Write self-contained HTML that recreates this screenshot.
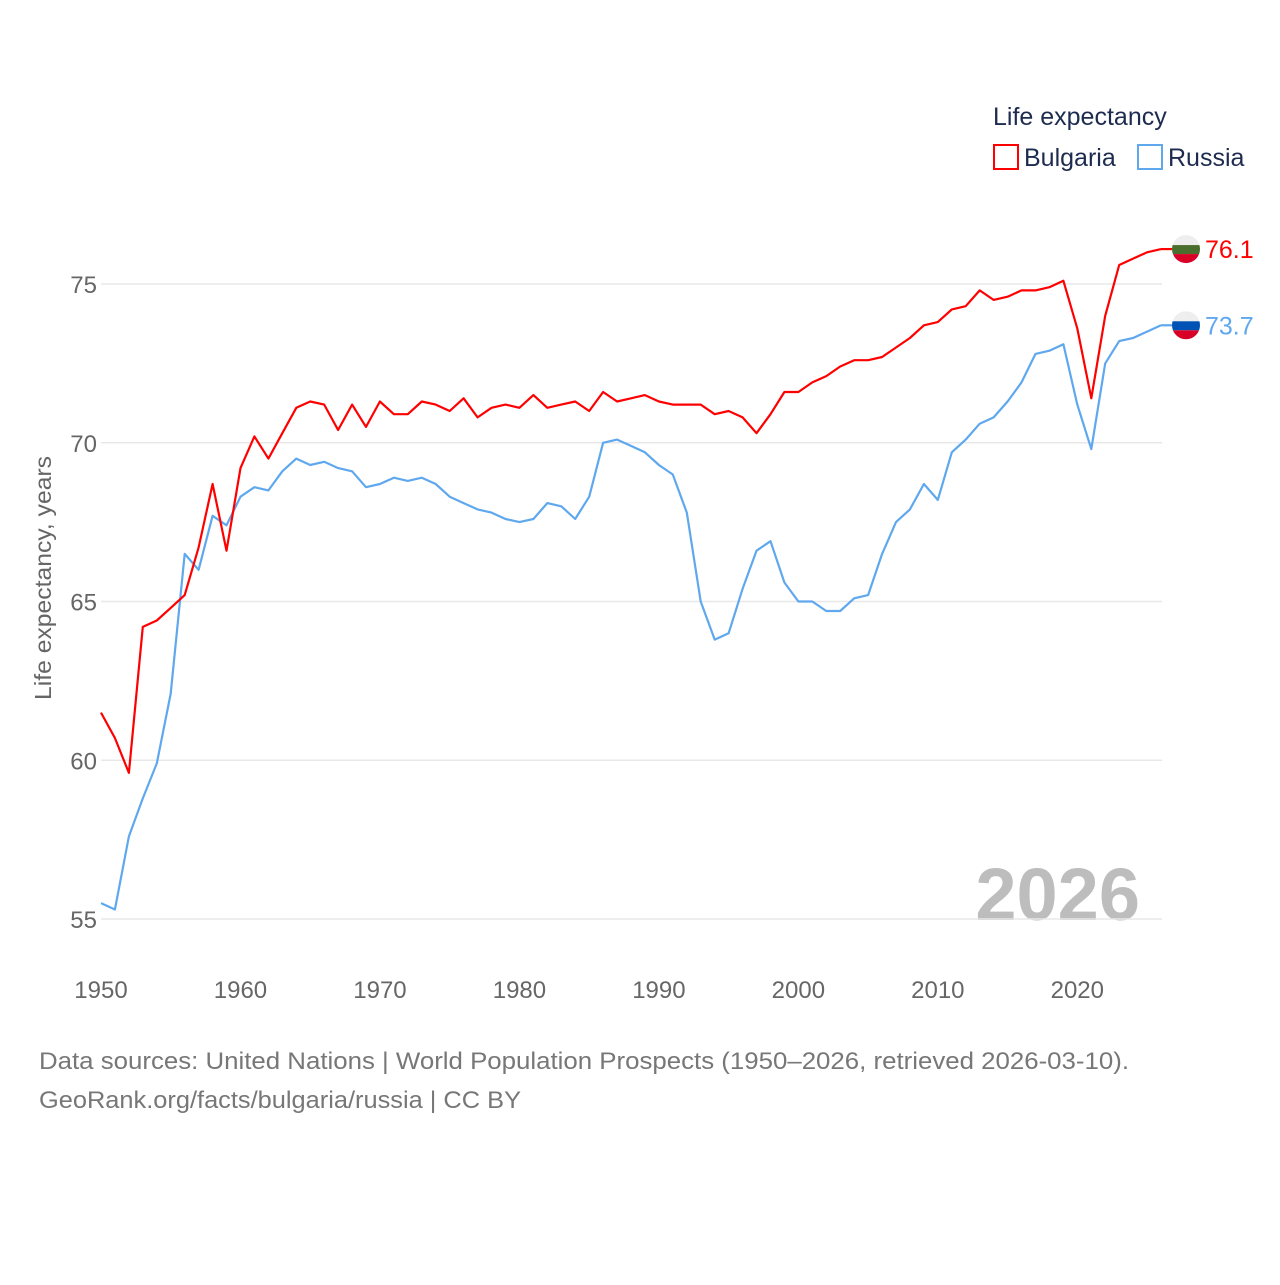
<!DOCTYPE html>
<html><head><meta charset="utf-8"><style>
body{margin:0;background:#fff;width:1280px;height:1280px;overflow:hidden;font-family:"Liberation Sans",sans-serif}
</style></head><body>
<svg id="chart" width="1280" height="1280" xmlns="http://www.w3.org/2000/svg" font-family="Liberation Sans, sans-serif">
<text x="993" y="125" font-size="25" fill="#1d2b4f">Life expectancy</text>
<g><rect x="994" y="145" width="24" height="24" fill="none" stroke="#ff0000" stroke-width="2"/><text x="1024" y="166" font-size="25" fill="#1d2b4f">Bulgaria</text></g>
<g><rect x="1138" y="145" width="24" height="24" fill="none" stroke="#5fa8ee" stroke-width="2"/><text x="1168" y="166" font-size="25" fill="#1d2b4f">Russia</text></g>
<text transform="translate(51,578) rotate(-90)" text-anchor="middle" font-size="23" fill="#666" textLength="244" lengthAdjust="spacingAndGlyphs">Life expectancy, years</text>
<text x="1140" y="920" text-anchor="end" font-size="74" font-weight="bold" fill="#bdbdbd">2026</text>
<g id="grid"></g><g id="xt"></g><g id="lines"></g>
<text x="39" y="1069" font-size="24" fill="#777" textLength="1090" lengthAdjust="spacingAndGlyphs">Data sources: United Nations | World Population Prospects (1950–2026, retrieved 2026-03-10).</text>
<text x="39" y="1108" font-size="24" fill="#777" textLength="482" lengthAdjust="spacingAndGlyphs">GeoRank.org/facts/bulgaria/russia | CC BY</text>
</svg>
<script>
const years=[];for(let y=1950;y<=2026;y++)years.push(y);
const bulgaria=[61.5,60.7,59.6,64.2,64.4,64.8,65.2,66.7,68.7,66.6,69.2,70.2,69.5,70.3,71.1,71.3,71.2,70.4,71.2,70.5,71.3,70.9,70.9,71.3,71.2,71.0,71.4,70.8,71.1,71.2,71.1,71.5,71.1,71.2,71.3,71.0,71.6,71.3,71.4,71.5,71.3,71.2,71.2,71.2,70.9,71.0,70.8,70.3,70.9,71.6,71.6,71.9,72.1,72.4,72.6,72.6,72.7,73.0,73.3,73.7,73.8,74.2,74.3,74.8,74.5,74.6,74.8,74.8,74.9,75.1,73.6,71.4,74.0,75.6,75.8,76.0,76.1];
const russia=[55.5,55.3,57.6,58.8,59.9,62.1,66.5,66.0,67.7,67.4,68.3,68.6,68.5,69.1,69.5,69.3,69.4,69.2,69.1,68.6,68.7,68.9,68.8,68.9,68.7,68.3,68.1,67.9,67.8,67.6,67.5,67.6,68.1,68.0,67.6,68.3,70.0,70.1,69.9,69.7,69.3,69.0,67.8,65.0,63.8,64.0,65.4,66.6,66.9,65.6,65.0,65.0,64.7,64.7,65.1,65.2,66.5,67.5,67.9,68.7,68.2,69.7,70.1,70.6,70.8,71.3,71.9,72.8,72.9,73.1,71.2,69.8,72.5,73.2,73.3,73.5,73.7];
const yTicks=[55,60,65,70,75];
const xTicks=[1950,1960,1970,1980,1990,2000,2010,2020];
const NS="http://www.w3.org/2000/svg";
const X=v=>101+(v-1950)*(1161-101)/76;
const Y=v=>284+(75-v)*31.75;
function el(t,a,p){const e=document.createElementNS(NS,t);for(const k in a)e.setAttribute(k,a[k]);p.appendChild(e);return e;}
const grid=document.getElementById('grid'),xt=document.getElementById('xt'),lines=document.getElementById('lines');
yTicks.forEach(t=>{const l=el('line',{x1:101,x2:1162,y1:Y(t),y2:Y(t),stroke:'#e8e8e8','stroke-width':1.5},grid);


const tx=el('text',{x:97,y:Y(t)+9,'text-anchor':'end','font-size':24,fill:'#666'},grid);tx.textContent=t;

});
xTicks.forEach(t=>{const tx=el('text',{x:X(t),y:998,'text-anchor':'middle','font-size':24,fill:'#666'},xt);tx.textContent=t;

});
function series(vals,color,name,flag){
const d=vals.map((v,i)=>(i?'L':'M')+X(years[i]).toFixed(1)+','+Y(v).toFixed(1)).join('');
const p=el('path',{d:d,fill:'none',stroke:color,'stroke-width':2.2,'stroke-linejoin':'round'},lines);


const last=vals[vals.length-1],cx=1186,cy=Y(last);
const g=el('g',{},lines);


el('line',{x1:1161,x2:1172,y1:cy,y2:cy,stroke:color,'stroke-width':2.2},g);
const cp=el('clipPath',{id:'c'+name},g);el('circle',{cx:cx,cy:cy,r:14},cp);
const cg=el('g',{'clip-path':'url(#c'+name+')'},g);
el('rect',{x:cx-14,y:cy-14,width:28,height:10,fill:flag[0]},cg);
el('rect',{x:cx-14,y:cy-4,width:28,height:9,fill:flag[1]},cg);
el('rect',{x:cx-14,y:cy+5,width:28,height:10,fill:flag[2]},cg);
const t=el('text',{x:1205,y:cy+9,'font-size':25,fill:color},g);t.textContent=last.toFixed(1);


}
series(russia,'#5fa8ee','russia',['#eeeeee','#0052b4','#d80027']);
series(bulgaria,'#ff0000','bulgaria',['#eeeeee','#496e2d','#d80027']);
</script>
</body></html>
